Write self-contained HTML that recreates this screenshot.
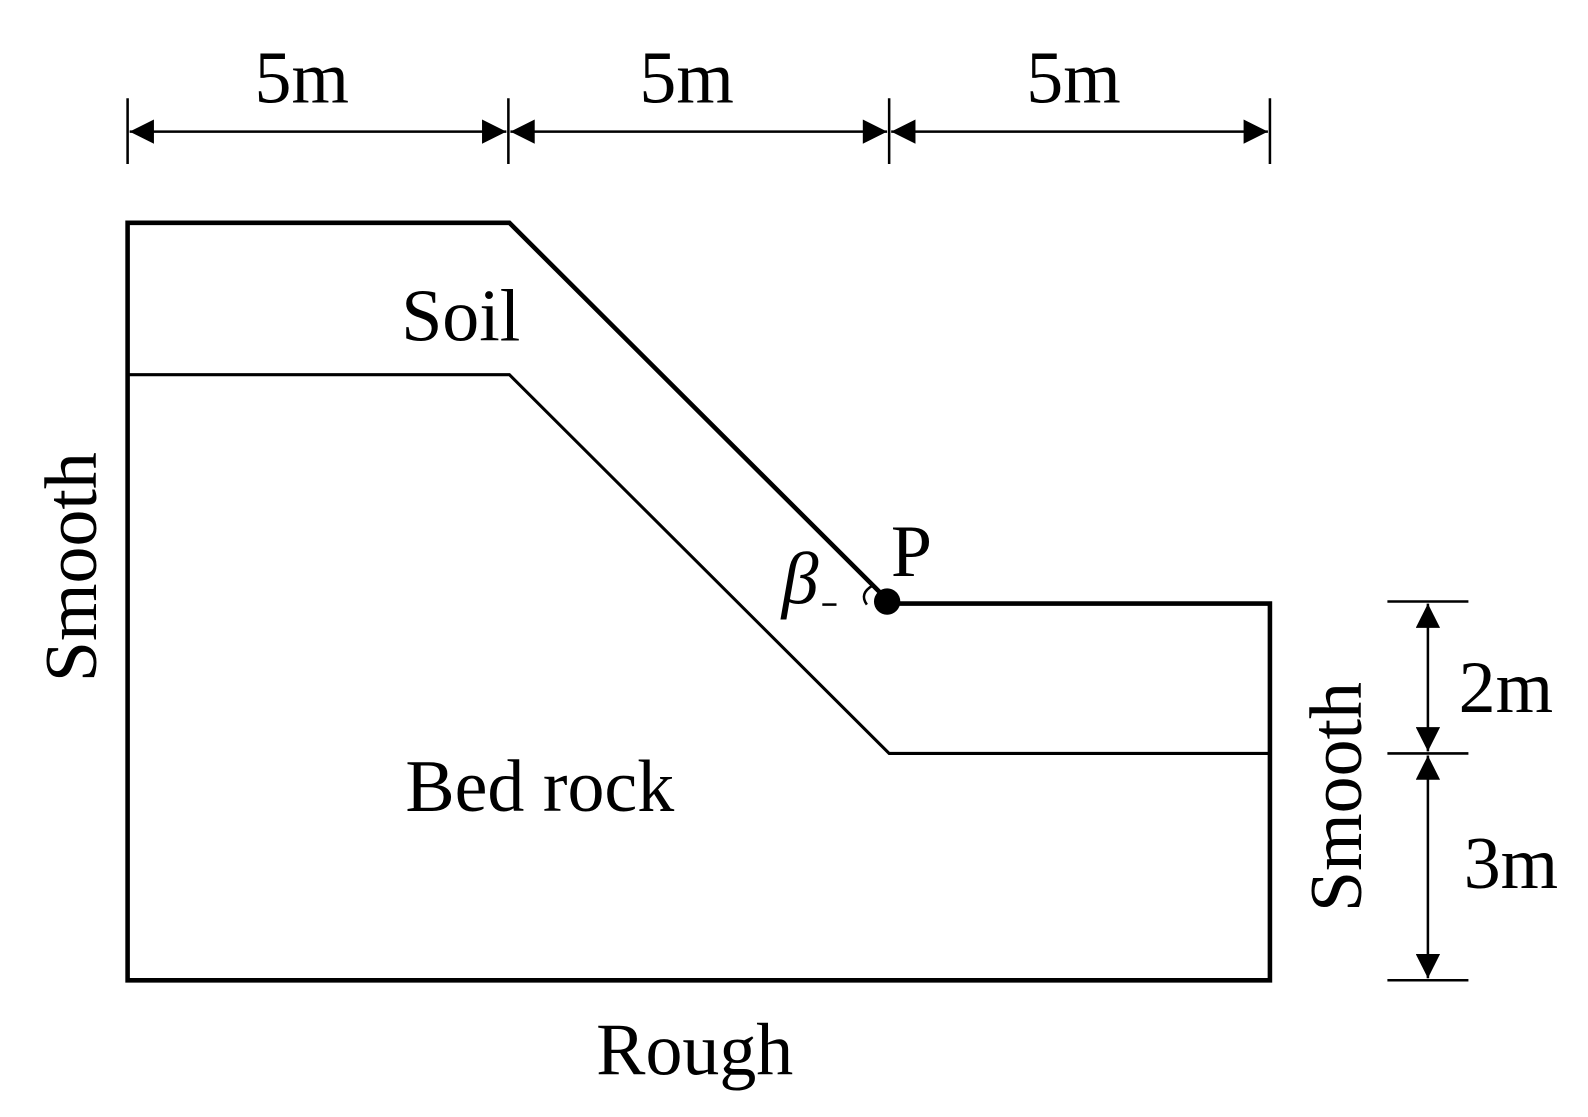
<!DOCTYPE html>
<html><head><meta charset="utf-8"><style>html,body{margin:0;padding:0;background:#fff}</style></head>
<body>
<svg width="1588" height="1112" viewBox="0 0 1588 1112" xmlns="http://www.w3.org/2000/svg" font-family="Liberation Serif, serif">
<rect width="1588" height="1112" fill="#fff"/>
<defs>
<marker id="a" viewBox="0 0 10 10" refX="10" refY="5" markerWidth="36" markerHeight="24" markerUnits="userSpaceOnUse" orient="auto-start-reverse"><path d="M0,0 L10,5 L0,10 z" fill="#000"/></marker>
</defs>
<g transform="scale(1.0127)">
<g stroke="#000" fill="none">
<path d="M126,220 L503,220 L880,596 L1254,596 L1254,968 L126,968 Z" stroke-width="4.5"/>
<path d="M126,370 L503,370 L878,744 L1254,744" stroke-width="3"/>
<g stroke-width="2.5">
<line x1="126" y1="97" x2="126" y2="162"/><line x1="502" y1="97" x2="502" y2="162"/>
<line x1="878" y1="97" x2="878" y2="162"/><line x1="1254" y1="97" x2="1254" y2="162"/>
<line x1="128" y1="130" x2="500" y2="130" marker-start="url(#a)" marker-end="url(#a)"/>
<line x1="504" y1="130" x2="876" y2="130" marker-start="url(#a)" marker-end="url(#a)"/>
<line x1="880" y1="130" x2="1252" y2="130" marker-start="url(#a)" marker-end="url(#a)"/>
<line x1="1370" y1="594" x2="1450" y2="594"/><line x1="1370" y1="744" x2="1450" y2="744"/><line x1="1370" y1="968" x2="1450" y2="968"/>
<line x1="1410" y1="596" x2="1410" y2="742" marker-start="url(#a)" marker-end="url(#a)"/>
<line x1="1410" y1="746" x2="1410" y2="966" marker-start="url(#a)" marker-end="url(#a)"/>
<path d="M862,578 Q848,586 856,597"/>
<line x1="812" y1="597" x2="826" y2="597"/>
</g>
</g>
<circle cx="876" cy="594" r="13" fill="#000"/>
<g font-size="73" fill="#000" text-anchor="middle">
<text x="298" y="101">5m</text><text x="678" y="101">5m</text><text x="1060" y="101">5m</text>
<text x="1487" y="703">2m</text><text x="1492" y="877">3m</text>
<text x="455" y="336">Soil</text><text x="533" y="801">Bed rock</text>
<text x="686" y="1061">Rough</text>
<text x="900" y="569">P</text>
<text x="790" y="596" font-style="italic">β</text>
<text transform="translate(95,560) rotate(-90)">Smooth</text>
<text transform="translate(1344,787) rotate(-90)">Smooth</text>
</g>
</g>
</svg>
</body></html>
